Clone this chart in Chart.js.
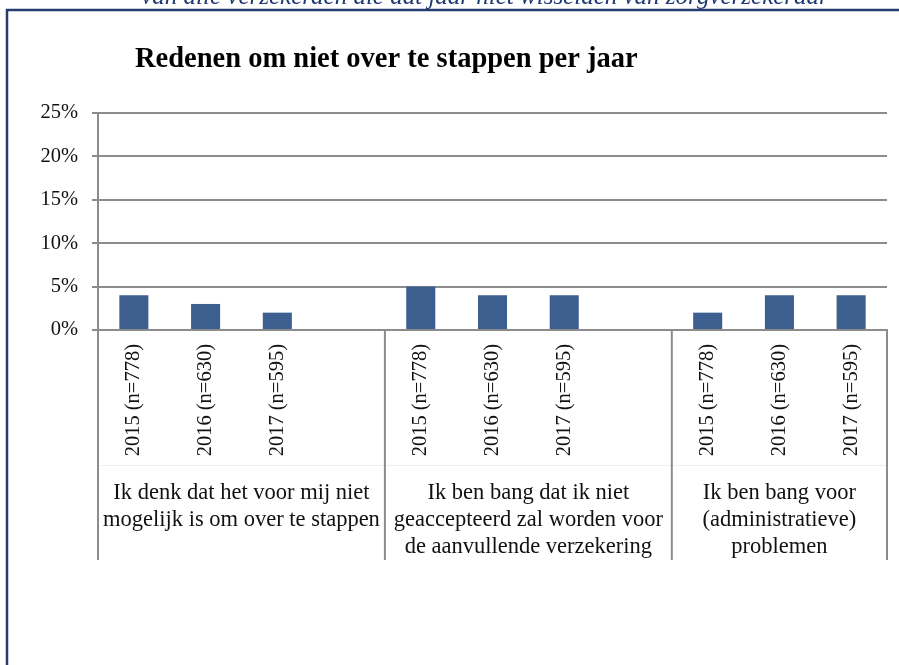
<!DOCTYPE html>
<html><head><meta charset="utf-8">
<script src="https://cdn.jsdelivr.net/npm/chart.js@4"></script>
<style>html,body{margin:0;padding:0;background:#fff;overflow:hidden}#wrap{position:absolute;left:0;top:0;width:899px;height:665px}</style>
</head><body><div id="wrap"><canvas id="c" width="899" height="665"></canvas></div>
<script>
const chartTitle = 'Redenen om niet over te stappen per jaar';
const subtitle = 'van alle verzekerden die dat jaar niet wisselden van zorgverzekeraar';
const categories = ['2015 (n=778)','2016 (n=630)','2017 (n=595)','',
                    '2015 (n=778)','2016 (n=630)','2017 (n=595)','',
                    '2015 (n=778)','2016 (n=630)','2017 (n=595)'];
const values = [4, 3, 2, null, 5, 4, 4, null, 2, 4, 4];
const yMin = 0, yMax = 25, yStep = 5;
const groupLabels = [
  ['Ik denk dat het voor mij niet', 'mogelijk is om over te stappen'],
  ['Ik ben bang dat ik niet', 'geaccepteerd zal worden voor', 'de aanvullende verzekering'],
  ['Ik ben bang voor', '(administratieve)', 'problemen']
];
const groupRanges = [[0, 3], [4, 7], [8, 10]];

const FONT = '"Liberation Serif", "Times New Roman", serif';
const GRID = '#8c8c8c';

const decor = {
  id: 'decor',
  afterDraw(chart) {
    const ctx = chart.ctx, xs = chart.scales.x, a = chart.chartArea;
    const n = categories.length;
    const bound = i => {
      if (i <= 0) return xs.left;
      if (i >= n) return xs.right;
      return (xs.getPixelForValue(i - 1) + xs.getPixelForValue(i)) / 2;
    };
    const lowY = a.bottom + 230;
    ctx.save();
    // faint divider
    ctx.strokeStyle = '#efefef'; ctx.lineWidth = 1;
    ctx.beginPath(); ctx.moveTo(xs.left, a.bottom + 135.5); ctx.lineTo(xs.right, a.bottom + 135.5); ctx.stroke();
    // separators
    ctx.strokeStyle = GRID; ctx.lineWidth = 2;
    const edges = new Set();
    groupRanges.forEach(([s, e]) => { edges.add(bound(s)); edges.add(bound(e + 1)); });
    edges.forEach(x => {
      ctx.beginPath(); ctx.moveTo(x, a.bottom); ctx.lineTo(x, lowY); ctx.stroke();
    });
    // group labels
    ctx.fillStyle = '#111'; ctx.font = '22.5px ' + FONT;
    ctx.textAlign = 'center'; ctx.textBaseline = 'middle';
    groupRanges.forEach(([s, e], gi) => {
      const cx = (bound(s) + bound(e + 1)) / 2;
      groupLabels[gi].forEach((t, li) => ctx.fillText(t, cx, a.bottom + 163 + li * 27));
    });
    // title
    ctx.font = 'bold 28.5px ' + FONT; ctx.textAlign = 'left'; ctx.textBaseline = 'alphabetic';
    ctx.fillStyle = '#000';
    ctx.fillText(chartTitle, 135, 67);
    // subtitle (cut off at top)
    ctx.font = 'italic 25px ' + FONT; ctx.textAlign = 'center'; ctx.fillStyle = '#1f3a73';
    ctx.fillText(subtitle, 485, 4);
    // frame
    ctx.strokeStyle = '#263c70'; ctx.lineWidth = 2.5;
    ctx.beginPath(); ctx.moveTo(7, 700); ctx.lineTo(7, 10); ctx.lineTo(920, 10); ctx.stroke();
    ctx.restore();
  }
};

new Chart(document.getElementById('c'), {
  type: 'bar',
  data: {
    labels: categories,
    datasets: [{ data: values, backgroundColor: '#3d5f8f', categoryPercentage: 1, barPercentage: 0.405 }]
  },
  options: {
    responsive: false, animation: false, devicePixelRatio: 1,
    layout: { padding: { top: 113, right: 12, left: 0, bottom: 0 } },
    plugins: { legend: { display: false }, tooltip: { enabled: false }, title: { display: false } },
    scales: {
      x: {
        grid: { display: false, drawTicks: false },
        border: { display: true, color: GRID, width: 2 },
        ticks: { minRotation: 90, maxRotation: 90, autoSkip: false, padding: 14, color: '#111', font: { family: FONT, size: 20.5 } },
        afterFit: s => { s.height = 335; }
      },
      y: {
        min: yMin, max: yMax,
        grid: { color: GRID, lineWidth: 2, tickLength: 6, drawTicks: true },
        border: { display: true, color: GRID, width: 2 },
        ticks: { stepSize: yStep, padding: 14, color: '#111', font: { family: FONT, size: 20.5 }, callback: v => v + '%' },
        afterFit: s => { s.width = 98; }
      }
    }
  },
  plugins: [decor]
});
</script></body></html>
